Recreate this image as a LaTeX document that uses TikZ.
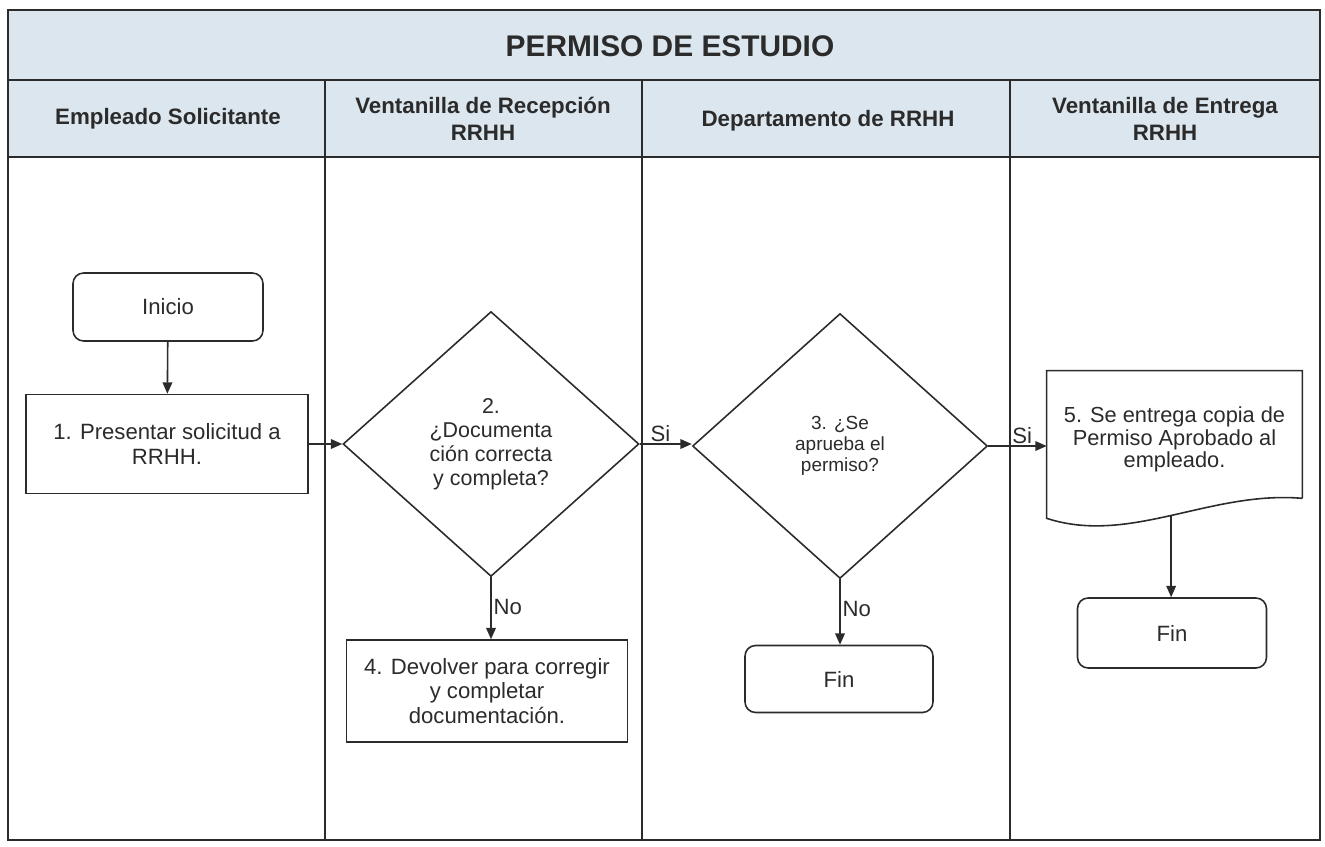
\documentclass[tikz,border=0pt]{standalone}
\usepackage{fontspec}
\setmainfont{Liberation Sans}
\usepackage{tikz}
\usetikzlibrary{arrows.meta,calc,shapes.geometric}
\definecolor{band}{HTML}{DCE6EE}
\definecolor{ink}{HTML}{2B2B2B}

\begin{document}
\begin{tikzpicture}[x=0.02cm,y=-0.02cm,
  every node/.style={font=\fontsize{12.6}{13.8}\selectfont,text=ink},
  proc/.style={draw=ink,line width=0.9pt,align=center,inner sep=2pt},
  term/.style={proc,rounded corners=6pt},
  decision/.style={draw=ink,line width=0.9pt,diamond,align=center,inner sep=0pt},
  flow/.style={draw=ink,line width=0.9pt,-{Triangle[length=6.5pt,width=5.5pt]}},
  lane/.style={font=\bfseries\fontsize{12.7}{15.3}\selectfont,align=center}]
\useasboundingbox (0,0) rectangle (1325,846);
\fill[band] (8,10) rectangle (1320,157);
\draw[ink,line width=0.9pt] (8,10) rectangle (1320,840);
\draw[ink,line width=0.9pt] (8,80) -- (1320,80) (8,157) -- (1320,157);
\foreach \xd in {325,642,1010} \draw[ink,line width=0.9pt] (\xd,80) -- (\xd,840);
\node[font=\bfseries\fontsize{17}{19}\selectfont] (title) at (670,46) {PERMISO DE ESTUDIO};
\node[lane] (laneA) at (168,119) {Empleado Solicitante};
\node[lane] (laneB) at (483,119) {Ventanilla de Recepción\\RRHH};
\node[lane] (laneC) at (828,121) {Departamento de RRHH};
\node[lane] (laneD) at (1165,119) {Ventanilla de Entrega\\RRHH};

\node[term,minimum width=3.8cm,minimum height=1.36cm] (inicio) at (168,307) {Inicio};
\node[proc,minimum width=5.64cm,minimum height=1.98cm] (presentar) at (167,444) {1. Presentar solicitud a\\RRHH.};
\node[decision,minimum width=5.92cm,minimum height=5.3cm,font=\fontsize{12.2}{13.6}\selectfont] (revisar) at (491,444) {2.\\¿Documenta\\ción correcta\\y completa?};
\node[proc,minimum width=5.62cm,minimum height=2.04cm] (devolver) at (487,691) {4. Devolver para corregir\\y completar\\documentación.};
\node[decision,minimum width=5.9cm,minimum height=5.3cm,font=\fontsize{10.8}{12}\selectfont] (aprobar) at (840,446) {3. ¿Se\\aprueba el\\permiso?};
\node[term,minimum width=3.76cm,minimum height=1.34cm] (finB) at (839,679) {Fin};
\node[align=center,minimum width=5.1cm,minimum height=2.74cm,inner sep=0pt,font=\fontsize{12.4}{12.8}\selectfont] (entregar) at (1174.5,439.5) {5. Se entrega copia de\\Permiso Aprobado al\\empleado.};
\draw[ink,line width=0.9pt] ($(entregar.south east)+(0,-10)$) -- (entregar.north east) -- (entregar.north west) -- ($(entregar.south west)+(0,10)$)
  .. controls ($(entregar.south west)+(83,37)$) and ($(entregar.south east)+(-92,-18)$) .. ($(entregar.south east)+(0,-10)$) coordinate[pos=0.5] (entregaB);
\node[term,minimum width=3.78cm,minimum height=1.4cm] (finC) at (1172,633) {Fin};

\draw[flow] (inicio) -- (presentar);
\draw[flow] (presentar.east) -- (presentar.east -| revisar.west);
\draw[flow] (revisar.east) -- node[above,pos=0.4,inner sep=1pt] (siA) {Si} (revisar.east -| aprobar.west);
\draw[flow] (aprobar.east) -- node[above,pos=0.58,inner sep=1pt] (siB) {Si} (aprobar.east -| entregar.west);
\draw[flow] (revisar.south) -- node[right,pos=0.48,inner sep=1pt] (noA) {No} (revisar.south |- devolver.north);
\draw[flow] (aprobar.south) -- node[right,pos=0.45,inner sep=1pt] (noB) {No} (aprobar.south |- finB.north);
\draw[flow] (entregaB) -- (entregaB |- finC.north);
\end{tikzpicture}
\end{document}
